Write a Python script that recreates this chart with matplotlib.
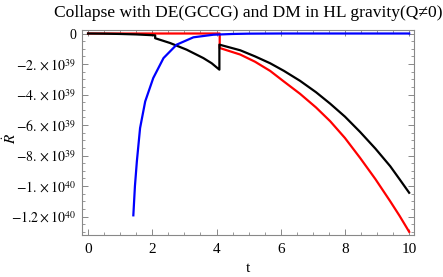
import matplotlib
matplotlib.use("Agg")
import matplotlib.pyplot as plt
from matplotlib.ticker import FixedLocator, MultipleLocator

plt.rcParams['font.family'] = ['Liberation Serif', 'DejaVu Serif']
plt.rcParams['mathtext.fontset'] = 'stix'

# data (R-dot values)
t_red = [0, 2.0, 4.1, 4.1, 4.74, 5.2, 5.67, 6.1, 6.6, 7.1, 7.54, 8.0, 8.47, 8.95, 9.41, 9.7, 10]
v_red = [0, 0, 0, -0.95e39, -1.38e39, -1.85e39, -2.45e39, -3.15e39, -3.95e39, -4.85e39,
         -5.75e39, -6.85e39, -8.15e39, -9.55e39, -11.0e39, -11.95e39, -13.0e39]

t_black = [0, 0.5, 1.0, 1.5, 2.09, 2.09, 2.55, 3.07, 3.59, 3.85, 4.09, 4.09,
           4.74, 5.2, 5.67, 6.1, 6.6, 7.1, 7.54, 8.0, 8.47, 8.95, 9.41, 9.7, 10]
v_black = [0, -0.01e39, -0.03e39, -0.06e39, -0.12e39, -0.31e39, -0.62e39, -1.06e39,
           -1.61e39, -1.95e39, -2.37e39, -0.73e39, -1.1e39, -1.5e39, -1.95e39, -2.45e39,
           -3.1e39, -3.85e39, -4.6e39, -5.45e39, -6.45e39, -7.55e39, -8.7e39, -9.55e39,
           -10.44e39]

t_blue = [1.41, 1.46, 1.52, 1.62, 1.78, 2.03, 2.35, 2.76, 3.28, 3.9, 4.5, 5.0, 6.0, 8.0, 10.0]
v_blue = [-11.92e39, -10.0e39, -8.38e39, -6.2e39, -4.45e39, -2.92e39, -1.61e39, -0.73e39,
          -0.25e39, -0.08e39, -0.03e39, -0.01e39, 0, 0, 0]

x_ticks = [0, 2, 4, 6, 8, 10]
y_ticks = [0, -2e39, -4e39, -6e39, -8e39, -1e40, -1.2e40]
y_labels = ['0', r'$-2.\times10^{39}$', r'$-4.\times10^{39}$', r'$-6.\times10^{39}$',
            r'$-8.\times10^{39}$', r'$-1.\times10^{40}$', r'$-1.2\times10^{40}$']

fig = plt.figure(figsize=(4.43, 2.77), dpi=100)
ax = fig.add_axes([0.185, 0.1516, 0.7495, 0.7401])

ax.plot(t_red, v_red, color='#ff0000', lw=1.6)
ax.plot(t_black, v_black, color='black', lw=1.6)
ax.plot(t_blue, v_blue, color='#0000ff', lw=1.6)

ax.set_xlim(-0.19, 10.15)
ax.set_ylim(-1.321e40, 0.23e39)

ax.xaxis.set_major_locator(FixedLocator(x_ticks))
ax.xaxis.set_minor_locator(MultipleLocator(0.5))
ax.yaxis.set_major_locator(FixedLocator(y_ticks))
ax.set_yticklabels(y_labels)
ax.yaxis.set_minor_locator(MultipleLocator(0.5e39))

for s in ax.spines.values():
    s.set_color('#888888')
    s.set_linewidth(0.8)
ax.tick_params(which='both', direction='in', top=True, right=True, color='#888888',
               labelcolor='black')
ax.tick_params(axis='x', labelsize=11, pad=6)
ax.tick_params(axis='y', labelsize=10, pad=4)
ax.tick_params(which='major', length=4, width=0.7)
ax.tick_params(which='minor', length=2, width=0.6)

ax.set_xlabel('t', fontsize=11, labelpad=4)
ax.set_ylabel(r'$\dot{R}$', fontsize=11)
ax.yaxis.set_label_coords(-0.19, 0.473)
ax.set_title('Collapse with DE(GCCG) and DM in HL gravity(Q\u22600)', fontsize=12.6, pad=9)

fig.savefig('out.png', dpi=100)
